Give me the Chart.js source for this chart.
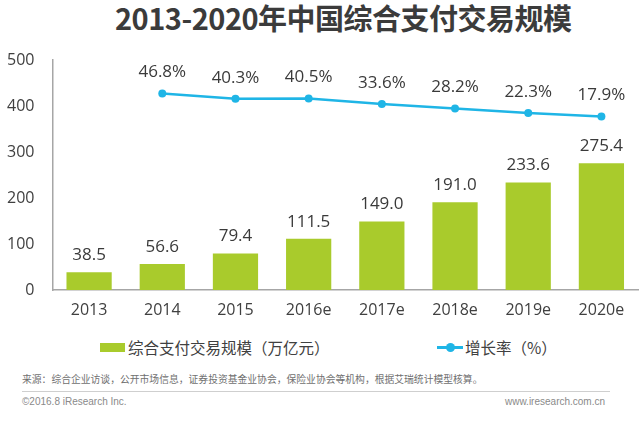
<!DOCTYPE html>
<html>
<head>
<meta charset="utf-8">
<script src="https://cdn.jsdelivr.net/npm/chart.js@4"></script>
<style>
  html, body { margin:0; padding:0; background:#fff; width:639px; height:422px; overflow:hidden; }
  #wrap { position:relative; width:639px; height:422px; overflow:hidden; }
  #cv { position:absolute; left:0; top:0; }
  .abs { position:absolute; white-space:nowrap; }
  #title { left:115px; top:0px; font-family:"Noto Sans CJK SC","Noto Sans",sans-serif; font-weight:bold; font-size:29px; line-height:34px; color:#3b3b3b; letter-spacing:-0.5px; }
  .lg { font-family:"Noto Sans CJK SC",sans-serif; font-size:15.5px; color:#404040; line-height:20px; top:337px; }
  #src { left:22px; top:372px; font-family:"Noto Sans CJK SC",sans-serif; font-size:9.8px; color:#707070; line-height:14px; }
  #hr { left:22px; top:391px; width:588px; height:1px; background:#cfcfcf; }
  .ft { top:396px; font-family:"Liberation Sans",Arial,sans-serif; font-size:10px; color:#8a8a8a; line-height:12px; }
</style>
</head>
<body>
<div id="wrap">
  <div id="title" class="abs">2013-2020年中国综合支付交易规模</div>
  <canvas id="cv" width="642" height="330" style="width:642px;height:330px;"></canvas>
  <div class="abs" style="left:100px;top:343px;width:25px;height:9px;background:#a9cb2c;"></div>
  <div class="abs lg" style="left:128px;">综合支付交易规模（万亿元）</div>
  <div class="abs" style="left:437px;top:346px;width:26px;height:3px;background:#1fb5e6;"></div>
  <div class="abs" style="left:446px;top:343px;width:9px;height:9px;border-radius:50%;background:#1fb5e6;"></div>
  <div class="abs lg" style="left:465px;">增长率（%）</div>
  <div id="src" class="abs">来源：综合企业访谈，公开市场信息，证券投资基金业协会，保险业协会等机构，根据艾瑞统计模型核算。</div>
  <div id="hr" class="abs"></div>
  <div class="abs ft" style="left:22px;">©2016.8 iResearch  Inc.</div>
  <div class="abs ft" style="left:505px;">www.iresearch.com.cn</div>
</div>
<script>
const categories = ["2013","2014","2015","2016e","2017e","2018e","2019e","2020e"];
const scaleValues = [38.5, 56.6, 79.4, 111.5, 149.0, 191.0, 233.6, 275.4];
const growthRates = [null, 46.8, 40.3, 40.5, 33.6, 28.2, 22.3, 17.9];
const yTicks = [0, 100, 200, 300, 400, 500];

const GREEN = '#a9cb2c';
const CYAN = '#1fb5e6';
const NUMFONT = '"Open Sans", "DejaVu Sans", sans-serif';

const labelPlugin = {
  id: 'valueLabels',
  afterDatasetsDraw(chart) {
    const ctx = chart.ctx;
    ctx.save();
    ctx.fillStyle = '#3a3a3a';
    ctx.textAlign = 'center';
    ctx.textBaseline = 'middle';
    ctx.font = '17px ' + NUMFONT;
    const m0 = chart.getDatasetMeta(0);
    m0.data.forEach((el, i) => {
      ctx.fillText(scaleValues[i].toFixed(1), el.x, el.y - 17);
    });
    const m1 = chart.getDatasetMeta(1);
    m1.data.forEach((el, i) => {
      if (growthRates[i] == null) return;
      ctx.fillText(growthRates[i].toFixed(1) + '%', el.x, el.y - 21);
    });
    ctx.restore();
  }
};

new Chart(document.getElementById('cv'), {
  data: {
    labels: categories,
    datasets: [
      {
        type: 'bar',
        data: scaleValues,
        backgroundColor: GREEN,
        yAxisID: 'y',
        barPercentage: 0.618,
        categoryPercentage: 1.0,
        order: 2
      },
      {
        type: 'line',
        data: growthRates,
        borderColor: CYAN,
        backgroundColor: CYAN,
        borderWidth: 2.5,
        pointRadius: 4,
        pointBackgroundColor: CYAN,
        pointBorderWidth: 0,
        tension: 0,
        yAxisID: 'y2',
        order: 1
      }
    ]
  },
  options: {
    responsive: false,
    animation: false,
    layout: { padding: { top: 60, left: 0, right: 0, bottom: 0 } },
    plugins: { legend: { display: false }, tooltip: { enabled: false }, title: { display: false } },
    scales: {
      x: {
        grid: { display: false, drawTicks: false },
        border: { display: true, color: '#a6a6a6', width: 1.5 },
        ticks: { color: '#404040', font: { size: 16, family: NUMFONT }, padding: 11 },
        afterFit(s) { s.height = 40; }
      },
      y: {
        min: 0, max: 500,
        afterBuildTicks(s) { s.ticks = yTicks.map(v => ({ value: v })); },
        grid: { display: false, drawTicks: false },
        border: { display: true, color: '#a6a6a6', width: 1.5 },
        ticks: { color: '#404040', font: { size: 16, family: NUMFONT }, padding: 18 },
        afterFit(s) { s.width = 52.5; }
      },
      y2: {
        display: false,
        min: -200, max: 89
      }
    }
  },
  plugins: [labelPlugin]
});
</script>
</body>
</html>
